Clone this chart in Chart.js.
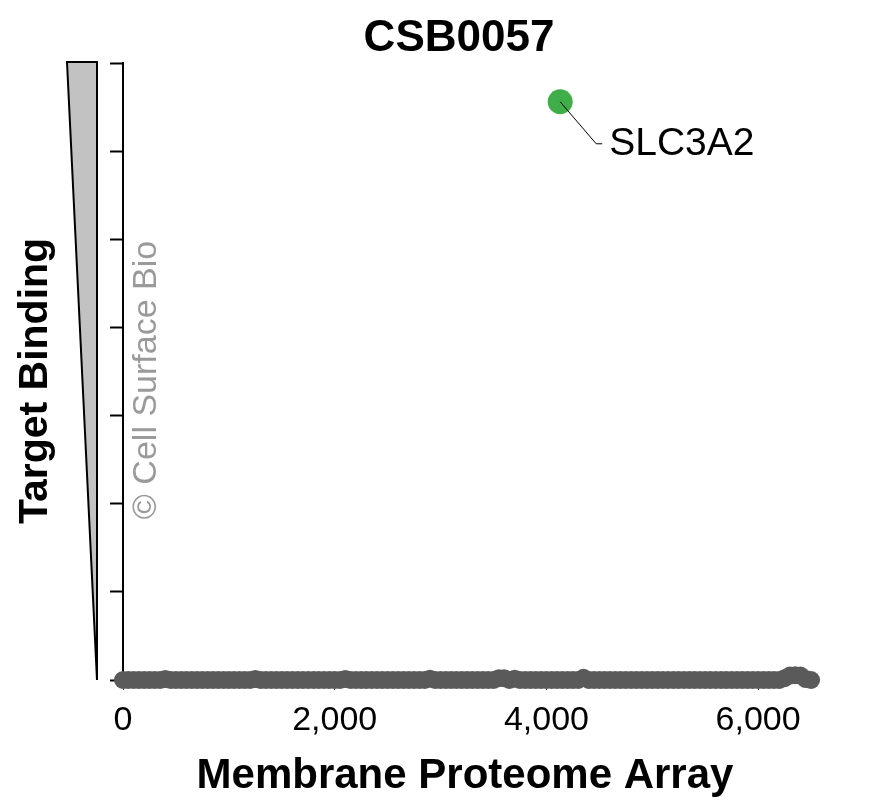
<!DOCTYPE html>
<html>
<head>
<meta charset="utf-8">
<title>CSB0057</title>
<script src="https://cdn.jsdelivr.net/npm/chart.js@4.4.1/dist/chart.umd.min.js"></script>
<style>
  html, body { margin: 0; padding: 0; background: #fff; }
  #wrap { width: 877px; height: 806px; }
</style>
</head>
<body>
<div id="wrap"><canvas id="myChart" width="877" height="806"></canvas></div>
<script>
// protein index along the array (one point every 50 proteins)
const proteinIdx = [
  0, 50, 100, 150, 200, 250, 300, 350, 400, 450,
  500, 550, 600, 650, 700, 750, 800, 850, 900, 950,
  1000, 1050, 1100, 1150, 1200, 1250, 1300, 1350, 1400, 1450,
  1500, 1550, 1600, 1650, 1700, 1750, 1800, 1850, 1900, 1950,
  2000, 2050, 2100, 2150, 2200, 2250, 2300, 2350, 2400, 2450,
  2500, 2550, 2600, 2650, 2700, 2750, 2800, 2850, 2900, 2950,
  3000, 3050, 3100, 3150, 3200, 3250, 3300, 3350, 3400, 3450,
  3500, 3550, 3600, 3650, 3700, 3750, 3800, 3850, 3900, 3950,
  4000, 4050, 4100, 4150, 4200, 4250, 4300, 4350, 4400, 4450,
  4500, 4550, 4600, 4650, 4700, 4750, 4800, 4850, 4900, 4950,
  5000, 5050, 5100, 5150, 5200, 5250, 5300, 5350, 5400, 5450,
  5500, 5550, 5600, 5650, 5700, 5750, 5800, 5850, 5900, 5950,
  6000, 6050, 6100, 6150, 6200, 6250, 6300, 6350, 6400, 6450,
  6500
];
const bindingVals = [
  0, 0, 0, 0, 0, 0, 0, 0, 0.01, 0,
  0, 0, 0, 0, 0, 0, 0, 0, 0, 0,
  0, 0, 0, 0, 0, 0.01, 0, 0, 0, 0,
  0, 0, 0, 0, 0, 0, 0, 0, 0, 0,
  0, 0, 0.01, 0, 0, 0, 0, 0, 0, 0,
  0, 0, 0, 0, 0, 0, 0, 0, 0.015, 0,
  0, 0, 0, 0, 0, 0, 0, 0, 0, 0,
  0, 0.02, 0.02, 0, 0.015, 0, 0, 0, 0, 0,
  0, 0, 0, 0, 0, 0, 0, 0.025, 0, 0,
  0, 0, 0, 0, 0, 0, 0, 0, 0, 0,
  0, 0, 0, 0, 0, 0, 0, 0, 0, 0,
  0, 0, 0, 0, 0, 0, 0, 0, 0, 0,
  0, 0, 0, 0, 0, 0.02, 0.05, 0.055, 0.05, 0.01,
  0
];
// the hit
const hitName = 'SLC3A2';
const hitIdx = 4130;
const hitVal = 6.56;

const xTickVals = [0, 2000, 4000, 6000];
const yTickVals = [0, 1, 2, 3, 4, 5, 6, 7];

(() => {
  'use strict';
  const FONT = '"Liberation Sans", Arial, sans-serif';

  // titles, wedge, watermark and label
  const decor = {
    id: 'decor',
    afterDraw(chart) {
      const c = chart.ctx;
      const y = chart.scales.y;
      const x = chart.scales.x;
      c.save();

      // grey wedge left of the y axis
      const top = y.getPixelForValue(7) - 1;
      const bot = y.getPixelForValue(0);
      c.beginPath();
      c.moveTo(67, top);
      c.lineTo(97, top);
      c.lineTo(97, bot);
      c.closePath();
      c.fillStyle = '#c2c2c2';
      c.fill();
      c.lineWidth = 2;
      c.strokeStyle = '#000';
      c.lineJoin = 'miter';
      c.stroke();

      c.fillStyle = '#000';
      c.textAlign = 'center';
      c.textBaseline = 'middle';
      c.font = 'bold 44px ' + FONT;
      c.fillText('CSB0057', 459, 39);

      c.font = 'bold 42px ' + FONT;
      c.fillText('Membrane Proteome Array', 465, 776);

      c.save();
      c.translate(36, 381);
      c.rotate(-Math.PI / 2);
      c.font = 'bold 41px ' + FONT;
      c.fillText('Target Binding', 0, 0);
      c.restore();

      c.save();
      c.translate(147, 380);
      c.rotate(-Math.PI / 2);
      c.font = '34px ' + FONT;
      c.fillStyle = '#9a9a9a';
      c.fillText('\u00A9 Cell Surface Bio', 0, 0);
      c.restore();

      // leader line + label for the hit
      const px = x.getPixelForValue(hitIdx);
      const py = y.getPixelForValue(hitVal);
      c.beginPath();
      c.moveTo(px, py);
      c.lineTo(px + 36, py + 42);
      c.lineTo(px + 42, py + 42);
      c.lineWidth = 1;
      c.strokeStyle = '#000';
      c.stroke();
      c.font = '39px ' + FONT;
      c.textAlign = 'left';
      c.fillStyle = '#000';
      c.fillText(hitName, px + 49, py + 42);

      c.restore();
    }
  };

  const ctx = document.getElementById('myChart');
  // eslint-disable-next-line no-unused-vars
  const myChart = new Chart(ctx, {
    type: 'scatter',
    data: {
      datasets: [{
        label: hitName,
        data: [{ x: hitIdx, y: hitVal }],
        pointRadius: 12.5,
        pointBackgroundColor: '#3fae49',
        pointBorderWidth: 0,
        clip: false
      }, {
        label: 'MPA',
        data: proteinIdx.map((v, i) => ({ x: v, y: bindingVals[i] })),
        pointRadius: 9,
        pointBackgroundColor: '#5a5a5a',
        pointBorderWidth: 0,
        clip: false
      }]
    },
    options: {
      responsive: false,
      animation: false,
      devicePixelRatio: 1,
      layout: { padding: { top: 63, right: 13, left: 0, bottom: 0 } },
      plugins: {
        legend: { display: false },
        tooltip: { enabled: false }
      },
      scales: {
        x: {
          type: 'linear',
          min: 0,
          max: 7000,
          afterBuildTicks: s => { s.ticks = xTickVals.map(v => ({ value: v })); },
          afterFit: s => { s.height = 126; },
          border: { display: false },
          grid: {
            drawOnChartArea: false,
            tickLength: 10,
            tickWidth: 1,
            tickColor: '#333'
          },
          ticks: {
            color: '#000',
            padding: 10,
            maxRotation: 0,
            font: { family: FONT, size: 34 },
            callback: v => v.toLocaleString('en-US')
          }
        },
        y: {
          min: 0,
          max: 7,
          afterBuildTicks: s => { s.ticks = yTickVals.map(v => ({ value: v })); },
          afterFit: s => { s.width = 123; },
          border: { display: true, color: '#000', width: 2 },
          grid: {
            drawOnChartArea: false,
            tickLength: 13,
            tickWidth: 2,
            tickColor: '#000'
          },
          ticks: {
            padding: 0,
            callback: () => ''
          }
        }
      }
    },
    plugins: [decor]
  });
})();
</script>
</body>
</html>
